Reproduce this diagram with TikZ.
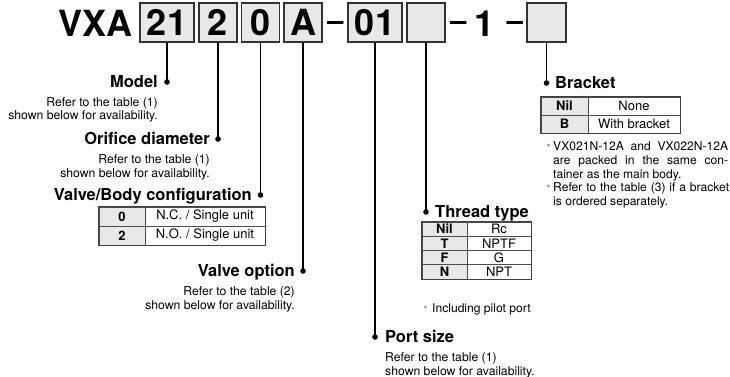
\documentclass[tikz,border=0pt]{standalone}
\usepackage{fontspec}
\setmainfont{TeX Gyre Heros}
\begin{document}
\begin{tikzpicture}[x=1pt,y=-1pt,
  codebox/.style={draw=black!80, fill=black!9, line width=1.3pt, inner sep=0pt, minimum height=39pt, font=\fontsize{36}{36}\selectfont\bfseries},
  titletxt/.style={font=\fontsize{36}{36}\selectfont\bfseries, inner sep=0pt},
  dashtxt/.style={font=\fontsize{29}{29}\selectfont\bfseries, inner sep=0pt, anchor=base},
  lead/.style={line width=1.3pt, black},
  lbl/.style={font=\fontsize{16.5}{18}\selectfont\bfseries, inner sep=0pt},
  subtxt/.style={font=\fontsize{12.2}{13.5}\selectfont, inner sep=0pt},
  notetxt/.style={font=\fontsize{12.1}{13.75}\selectfont, inner sep=0pt},
  star/.style={font=\fontsize{8}{8}\selectfont, inner sep=0pt, text=black!70},
  cellk/.style={draw=black!70, fill=black!9, line width=0.8pt, inner sep=0pt, font=\fontsize{13}{13}\selectfont\bfseries},
  cellv/.style={draw=black!70, fill=white, line width=0.8pt, inner sep=0pt, font=\fontsize{13}{13}\selectfont},
  tframe/.style={draw=black!75, line width=1.3pt},
  dotr/.style={fill=black}
]
\path[use as bounding box] (0,0) rectangle (730,377);

% ---- model code ----
\node[titletxt, anchor=base east] (vxa) at (133,37) {VXA};
\node[codebox, minimum width=54pt] (b1) at (167,22.5) {21};
\node[codebox, minimum width=38pt] (b2) at (218,22.5) {2};
\node[codebox, minimum width=38pt] (b3) at (260.5,22.5) {0};
\node[codebox, minimum width=38pt] (b4) at (303,22.5) {A};
\node[dashtxt] (h1) at (335.5,31) {–};
\node[codebox, minimum width=54pt] (b5) at (375,22.5) {01};
\node[codebox, minimum width=38pt] (b6) at (426,22.5) {};
\node[dashtxt] (h2) at (458.5,31) {–};
\node[titletxt, anchor=base] (one) at (484.5,37) {1};
\node[dashtxt] (h3) at (515,31) {–};
\node[codebox, minimum width=39pt] (b7) at (546.5,22.5) {};

% ---- dots ----
\coordinate (d1) at (167,82);
\coordinate (d2) at (218,139);
\coordinate (d3) at (260.5,195);
\coordinate (d4) at (303,271);
\coordinate (d5) at (375,337);
\coordinate (d6) at (426,212);
\coordinate (d7) at (546.5,83);

\draw[lead] (b1.south) -- (d1);
\draw[lead] (b2.south) -- (d2);
\draw[lead] (b3.south) -- (d3);
\draw[lead] (b4.south) -- (d4);
\draw[lead] (b5.south) -- (d5);
\draw[lead] (b6.south) -- (d6);
\draw[lead] (b7.south) -- (d7);
\foreach \d in {d1,d2,d3,d4,d5,d6,d7} \fill[dotr] (\d) circle (2.8);

% ---- Model ----
\node[lbl, anchor=base east] (lm) at (158,87.5) {Model};
\node[subtxt, anchor=base east, align=right] (sm) at (158,120) {Refer to the table (1)\\shown below for availability.};

% ---- Orifice ----
\node[lbl, anchor=base east] (lo) at (210,144.5) {Orifice diameter};
\node[subtxt, anchor=base east, align=right] (so) at (210,177) {Refer to the table (1)\\shown below for availability.};

% ---- Valve/Body ----
\node[lbl, anchor=base east] (lv) at (252,200.5) {Valve/Body configuration};
\node[cellk, minimum width=46pt, minimum height=19pt] (v1k) at (122,216.5) {0};
\node[cellv, minimum width=120pt, minimum height=19pt] (v1v) at (205,216.5) {N.C. / Single unit};
\node[cellk, minimum width=46pt, minimum height=19pt] (v2k) at (122,235.5) {2};
\node[cellv, minimum width=120pt, minimum height=19pt] (v2v) at (205,235.5) {N.O. / Single unit};
\draw[tframe] (v1k.north west) rectangle (v2v.south east);

% ---- Valve option ----
\node[lbl, anchor=base east] (lp) at (295,276.5) {Valve option};
\node[subtxt, anchor=base east, align=right] (sp) at (295,309) {Refer to the table (2)\\shown below for availability.};

% ---- Port size ----
\node[lbl, anchor=base west] (ls) at (385,342.5) {Port size};
\node[subtxt, anchor=base west, align=left] (ss) at (385,375) {Refer to the table (1)\\shown below for availability.};

% ---- Thread type ----
\node[lbl, anchor=base west] (lt) at (435,217.5) {Thread type};
\node[cellk, minimum width=45pt, minimum height=14.25pt] (t1k) at (444.5,229.125) {Nil};
\node[cellv, minimum width=64pt, minimum height=14.25pt] (t1v) at (499,229.125) {Rc};
\node[cellk, minimum width=45pt, minimum height=14.25pt] (t2k) at (444.5,243.375) {T};
\node[cellv, minimum width=64pt, minimum height=14.25pt] (t2v) at (499,243.375) {NPTF};
\node[cellk, minimum width=45pt, minimum height=14.25pt] (t3k) at (444.5,257.625) {F};
\node[cellv, minimum width=64pt, minimum height=14.25pt] (t3v) at (499,257.625) {G};
\node[cellk, minimum width=45pt, minimum height=14.25pt] (t4k) at (444.5,271.875) {N};
\node[cellv, minimum width=64pt, minimum height=14.25pt] (t4v) at (499,271.875) {NPT};
\draw[tframe] (t1k.north west) rectangle (t4v.south east);
\node[star] (ts) at (425.5,308) {$\ast$};
\node[notetxt, anchor=base west] (tn) at (432,312) {Including pilot port};

% ---- Bracket ----
\node[lbl, anchor=base west] (lb) at (555,88.5) {Bracket};
\node[cellk, minimum width=47pt, minimum height=18pt] (k1k) at (564.5,106) {Nil};
\node[cellv, minimum width=92pt, minimum height=18pt] (k1v) at (634,106) {None};
\node[cellk, minimum width=47pt, minimum height=18pt] (k2k) at (564.5,124) {B};
\node[cellv, minimum width=92pt, minimum height=18pt] (k2v) at (634,124) {With bracket};
\draw[tframe] (k1k.north west) rectangle (k2v.south east);
\node[star] (bs1) at (548.5,146) {$\ast$};
\node[notetxt, anchor=base west, text width=175pt, align=justify] (bn1) at (553,150.5)
  {VX021N-12A and VX022N-12A\linebreak are packed in the same con-\linebreak tainer as the main body.};
\node[star] (bs2) at (548.5,187) {$\ast$};
\node[notetxt, anchor=base west, text width=176pt, align=justify] (bn2) at (553,191.5)
  {Refer to the table (3) if a bracket\linebreak is ordered separately.};
\end{tikzpicture}
\end{document}
